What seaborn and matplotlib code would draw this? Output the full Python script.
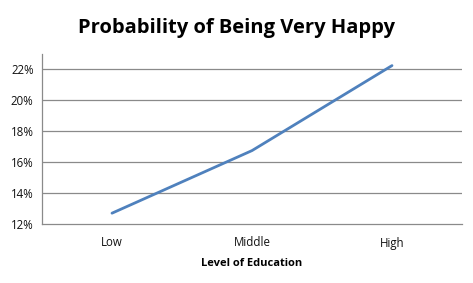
import matplotlib
matplotlib.use("Agg")
import matplotlib.pyplot as plt
import seaborn as sns
import pandas as pd
from matplotlib.ticker import FixedLocator

categories = ["Low", "Middle", "High"]
values = [12.7, 16.75, 22.25]
yticks = [12, 14, 16, 18, 20, 22]

df = pd.DataFrame({"cat": categories, "val": values, "pos": range(len(categories))})

sns.set_style("white")
plt.rcParams['font.family'] = ['Open Sans', 'DejaVu Sans']

fig = plt.figure(figsize=(4.73, 2.83), dpi=100)
ax = fig.add_axes([42/473, (283-224)/283, 420/473, (224-54)/283])

sns.lineplot(data=df, x="pos", y="val", ax=ax, color="#4F81BD", linewidth=2.0)

ax.set_xlim(-0.5, 2.5)
ax.set_ylim(12, 23)
ax.set_yticks(yticks)
ax.set_yticklabels([f"{t}%" for t in yticks], fontsize=8.3, color="#111111")
for t in yticks[1:]:
    ax.axhline(t, color="#8a8a8a", linewidth=0.9, zorder=0)

ax.set_xticks(range(len(categories)))
ax.set_xticklabels(categories, fontsize=8.3, color="#111111")
ax.xaxis.set_minor_locator(FixedLocator([0.5, 1.5]))
ax.tick_params(axis="x", which="major", length=0, pad=9)
ax.tick_params(axis="x", which="minor", length=4, color="#8a8a8a", direction="out")
ax.tick_params(axis="y", which="major", length=4, color="#8a8a8a", direction="out", pad=2)

for s in ["top", "right"]:
    ax.spines[s].set_visible(False)
for s in ["left", "bottom"]:
    ax.spines[s].set_color("#8a8a8a")
    ax.spines[s].set_linewidth(0.9)

ax.set_xlabel("Level of Education", fontsize=8, fontweight="bold", labelpad=6, color="black")
ax.set_ylabel("")
fig.text(0.5, 1 - 28/283, "Probability of Being Very Happy", ha="center", va="center",
         fontsize=14.5, fontweight="bold", color="black")

fig.savefig("out.png", dpi=100, facecolor="white")
